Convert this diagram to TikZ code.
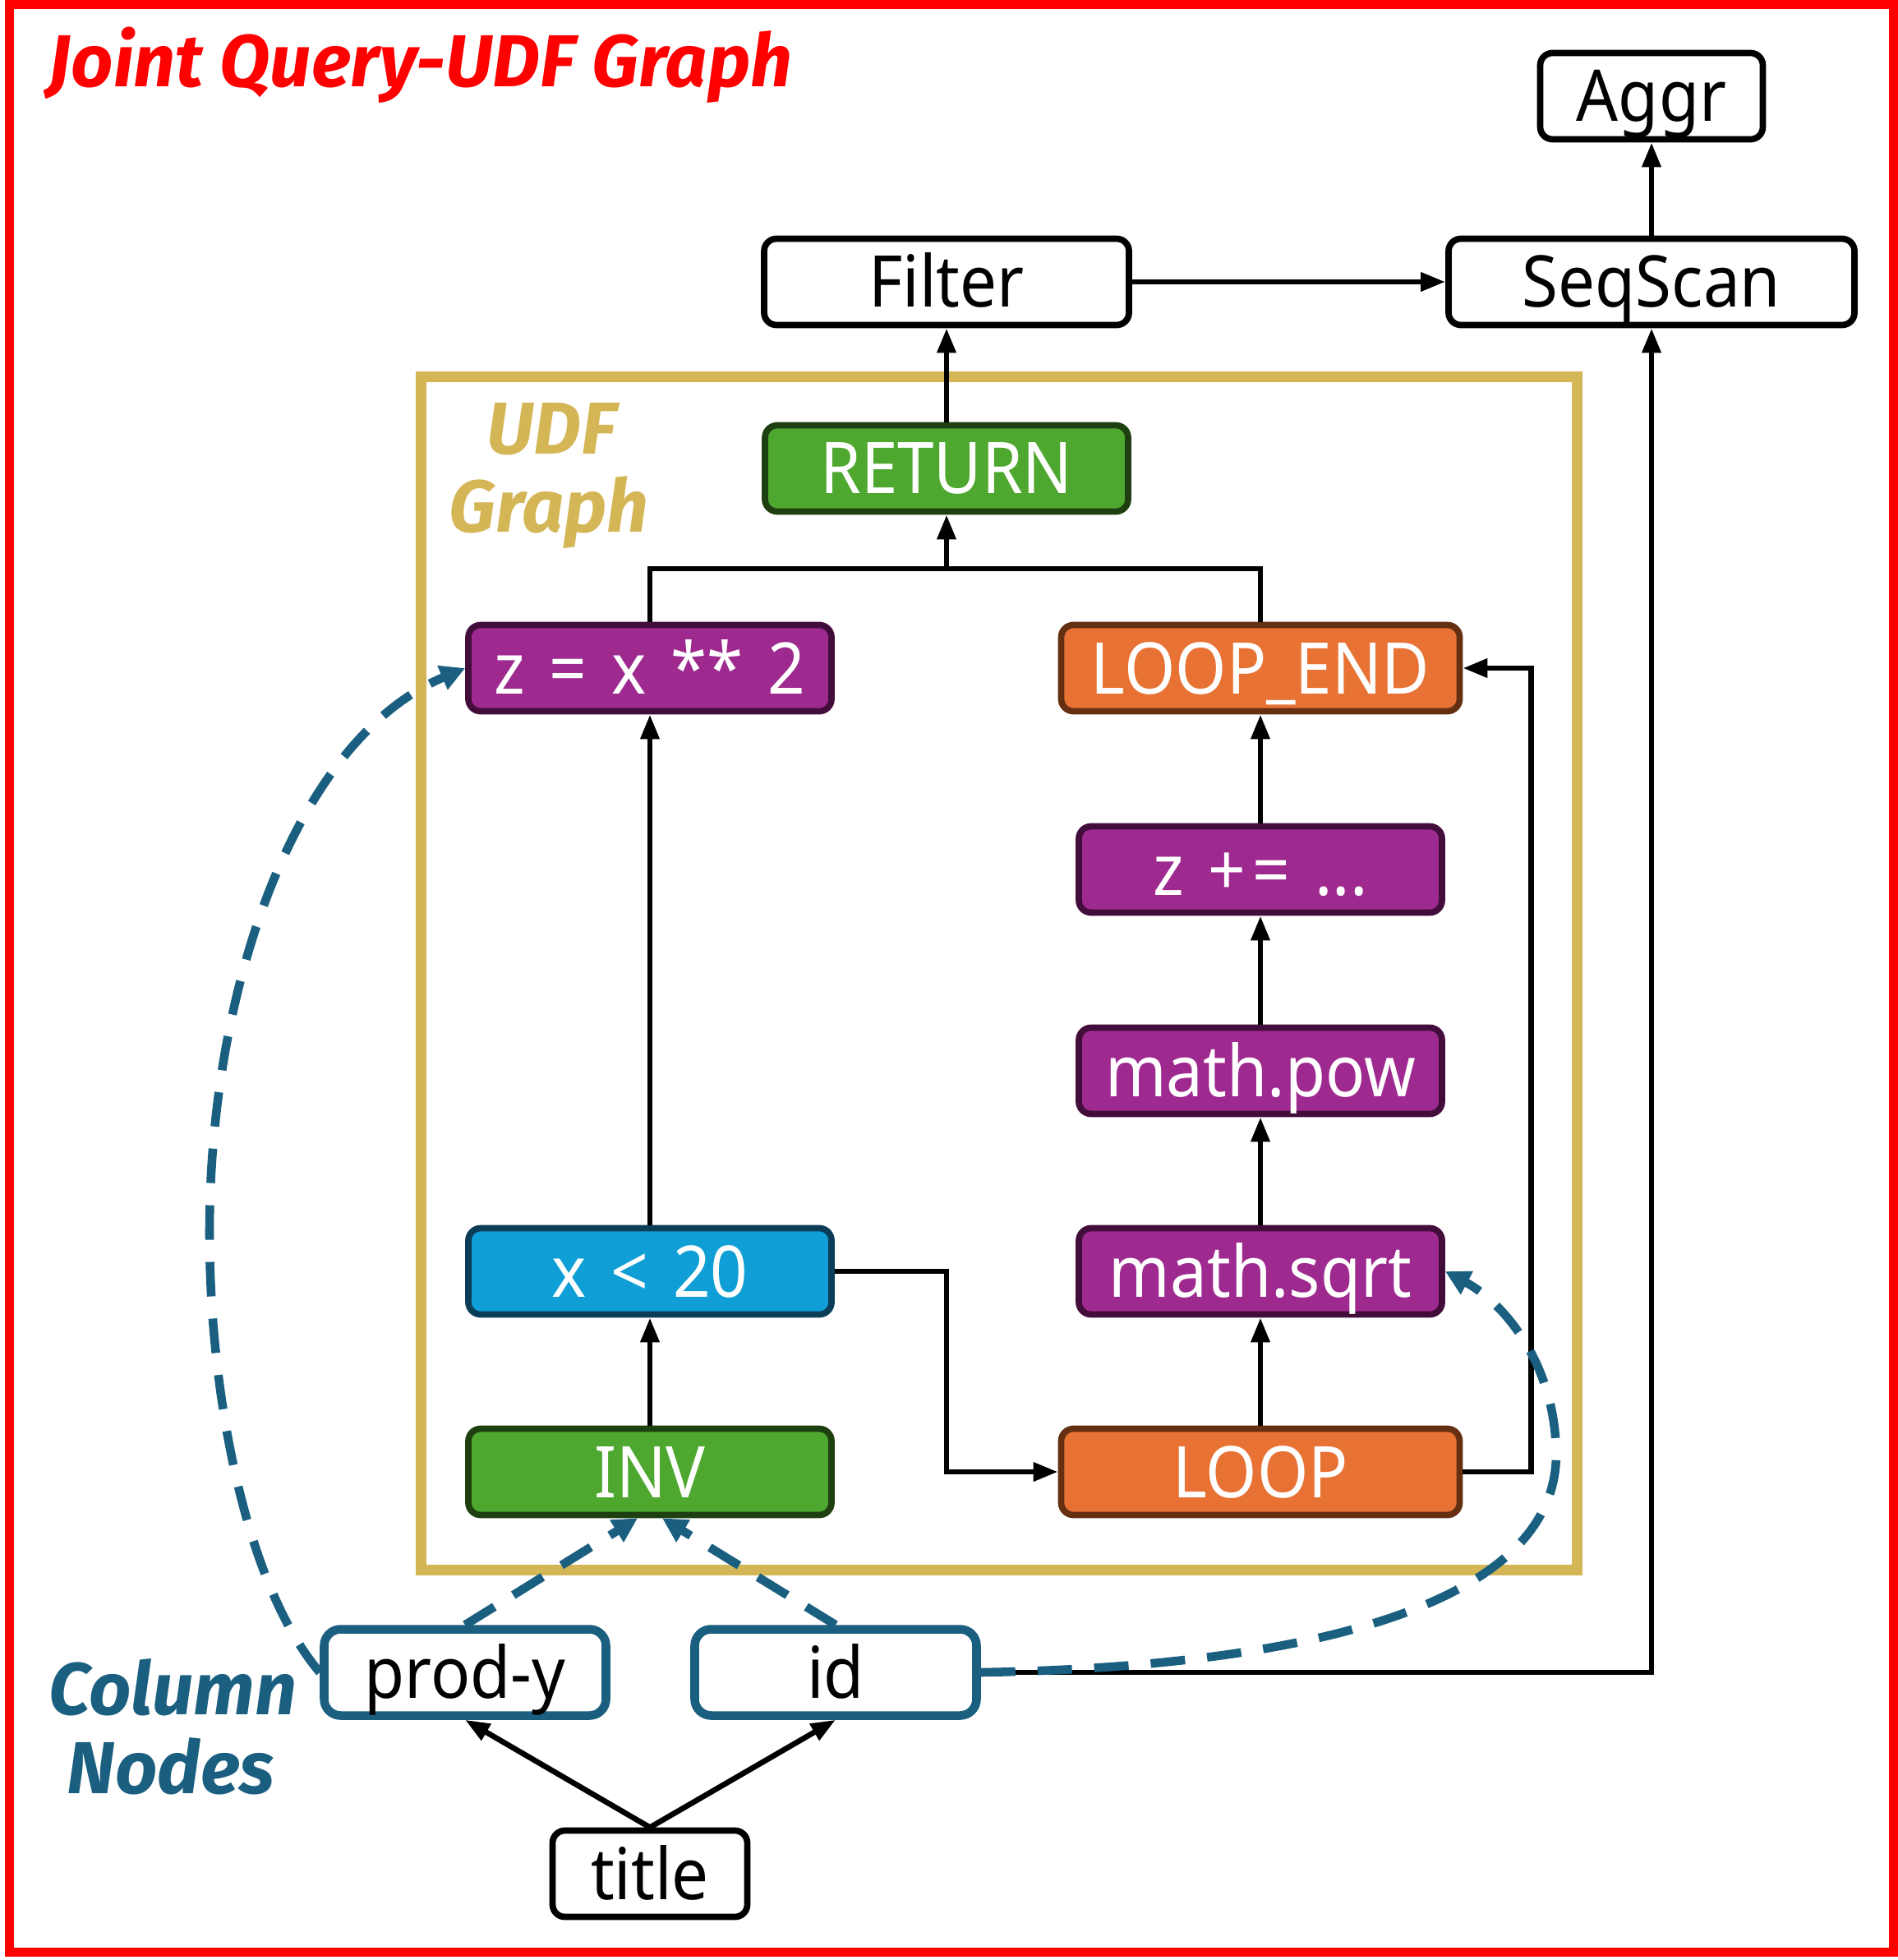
\documentclass[tikz,border=0pt]{standalone}
\usepackage{fontspec}
\setmainfont{Noto Sans}[FakeStretch=0.92]
\newfontfamily\tagfont{Fira Sans}
\usetikzlibrary{arrows.meta}

\definecolor{udfgold}{HTML}{D5B656}
\definecolor{colblue}{HTML}{1B5F80}
\definecolor{oppurple}{HTML}{9E2A8F}
\definecolor{oppurpledark}{HTML}{420D3B}
\definecolor{oporange}{HTML}{E87234}
\definecolor{oporangedark}{HTML}{652F12}
\definecolor{opgreen}{HTML}{4EA72E}
\definecolor{opgreendark}{HTML}{1E3F10}
\definecolor{opblue}{HTML}{0F9ED5}
\definecolor{opbluedark}{HTML}{0B3D56}

\newcommand{\gp}{\hspace{0.3cm}}

\tikzset{
  box/.style={draw, rounded corners=0.15cm, line width=2.2pt, inner sep=0pt,
    minimum height=1.05cm, font=\fontsize{24.7}{27}\selectfont,
    text height=0.62cm, text depth=0cm},
  plan/.style={box, fill=white, text=black},
  colnode/.style={box, draw=colblue, line width=3pt, fill=white,
    minimum width=3.43cm, rounded corners=0.2cm},
  op/.style={box, text=white, minimum width=4.42cm},
  purpleop/.style={op, fill=oppurple, draw=oppurpledark},
  greenop/.style={op, fill=opgreen, draw=opgreendark},
  blueop/.style={op, fill=opblue, draw=opbluedark},
  loopop/.style={op, fill=oporange, draw=oporangedark, minimum width=4.85cm},
  tag/.style={font=\tagfont\fontsize{25.5}{28}\selectfont\bfseries\itshape, anchor=base, inner sep=0pt},
  flow/.style={line width=1.9pt, -{Triangle[length=0.3cm,width=0.22cm]}},
  link/.style={line width=1.9pt},
  colflow/.style={draw=colblue, line width=3pt, dash pattern=on 0.42cm off 0.27cm,
    -{Triangle[length=0.3cm,width=0.3cm]}}
}

\begin{document}
\begin{tikzpicture}
\useasboundingbox (0,0) rectangle (23.10,-23.85);
\draw[red, line width=0.11cm] (0.11,-0.06) rectangle (23.04,-23.75);
\draw[udfgold, line width=0.13cm] (5.12,-4.59) rectangle (19.19,-19.10);

\node[tag, text=red, anchor=base west] (Heading) at (0.58,-1.06) {Joint Query-UDF Graph};
\node[tag, text=udfgold] (UdfA) at (6.71,-5.52) {UDF};
\node[tag, text=udfgold] (UdfB) at (6.68,-6.48) {Graph};
\node[tag, text=colblue] (ColA) at (2.10,-20.86) {Column};
\node[tag, text=colblue] (ColB) at (2.08,-21.82) {Nodes};

\node[plan, minimum width=2.71cm] (Aggr) at (20.10,-1.17) {Aggr};
\node[plan, minimum width=4.94cm] (SeqScan) at (20.10,-3.43) {SeqScan};
\node[plan, minimum width=4.44cm] (Filter) at (11.52,-3.43) {Filter};
\node[greenop] (Return) at (11.52,-5.70) {RETURN};
\node[purpleop] (ZSquare) at (7.91,-8.13) {z\gp=\gp x\gp**\gp 2};
\node[loopop] (LoopEnd) at (15.34,-8.13) {LOOP\_END};
\node[purpleop] (ZAdd) at (15.34,-10.58) {z\gp+\hspace{0.08cm}=\gp...};
\node[purpleop] (MathPow) at (15.34,-13.03) {math.pow};
\node[purpleop] (MathSqrt) at (15.34,-15.47) {math.sqrt};
\node[blueop] (XLess) at (7.91,-15.47) {x\gp<\gp 20};
\node[greenop] (Inv) at (7.91,-17.91) {INV};
\node[loopop] (Loop) at (15.34,-17.91) {LOOP};
\node[colnode] (ProdY) at (5.66,-20.35) {prod-y};
\node[colnode] (Id) at (10.17,-20.35) {id};
\node[plan, minimum width=2.37cm] (Title) at (7.91,-22.80) {title};

\coordinate (Join) at (11.52,-6.92);
\draw[flow] (SeqScan) -- (Aggr);
\draw[flow] (Filter) -- (SeqScan);
\draw[flow] (Return) -- (Filter);
\draw[link] (ZSquare.north) |- (Join) -| (LoopEnd.north);
\draw[flow] (Join) -- (Return.south);
\draw[flow] (XLess) -- (ZSquare);
\draw[flow] (Inv) -- (XLess);
\draw[flow] (XLess.east) -- (Return |- XLess) |- (Loop.west);
\draw[flow] (Loop) -- (MathSqrt);
\draw[flow] (MathSqrt) -- (MathPow);
\draw[flow] (MathPow) -- (ZAdd);
\draw[flow] (ZAdd) -- (LoopEnd);
\draw[flow] (Loop.east) -- ++(0.83,0) |- (LoopEnd.east);
\draw[flow] (Id.east) -| (SeqScan.south);
\draw[flow] (Title.north) -- (ProdY.south);
\draw[flow] (Title.north) -- (Id.south);

\draw[colflow] (ProdY.north) -- ([xshift=-0.15cm]Inv.south);
\draw[colflow] (Id.north) -- ([xshift=0.15cm]Inv.south);
\draw[colflow] (ProdY.west) .. controls (3.0,-19.3) and (2.55,-17.0) .. (2.55,-15.0)
  .. controls (2.55,-12.0) and (3.6,-9.0) .. (ZSquare.west);
\draw[colflow] (Id.east) .. controls (15.0,-20.3) and (18.9,-19.8) .. (18.94,-17.72)
  .. controls (18.94,-16.6) and (18.3,-15.85) .. (MathSqrt.east);
\end{tikzpicture}
\end{document}
